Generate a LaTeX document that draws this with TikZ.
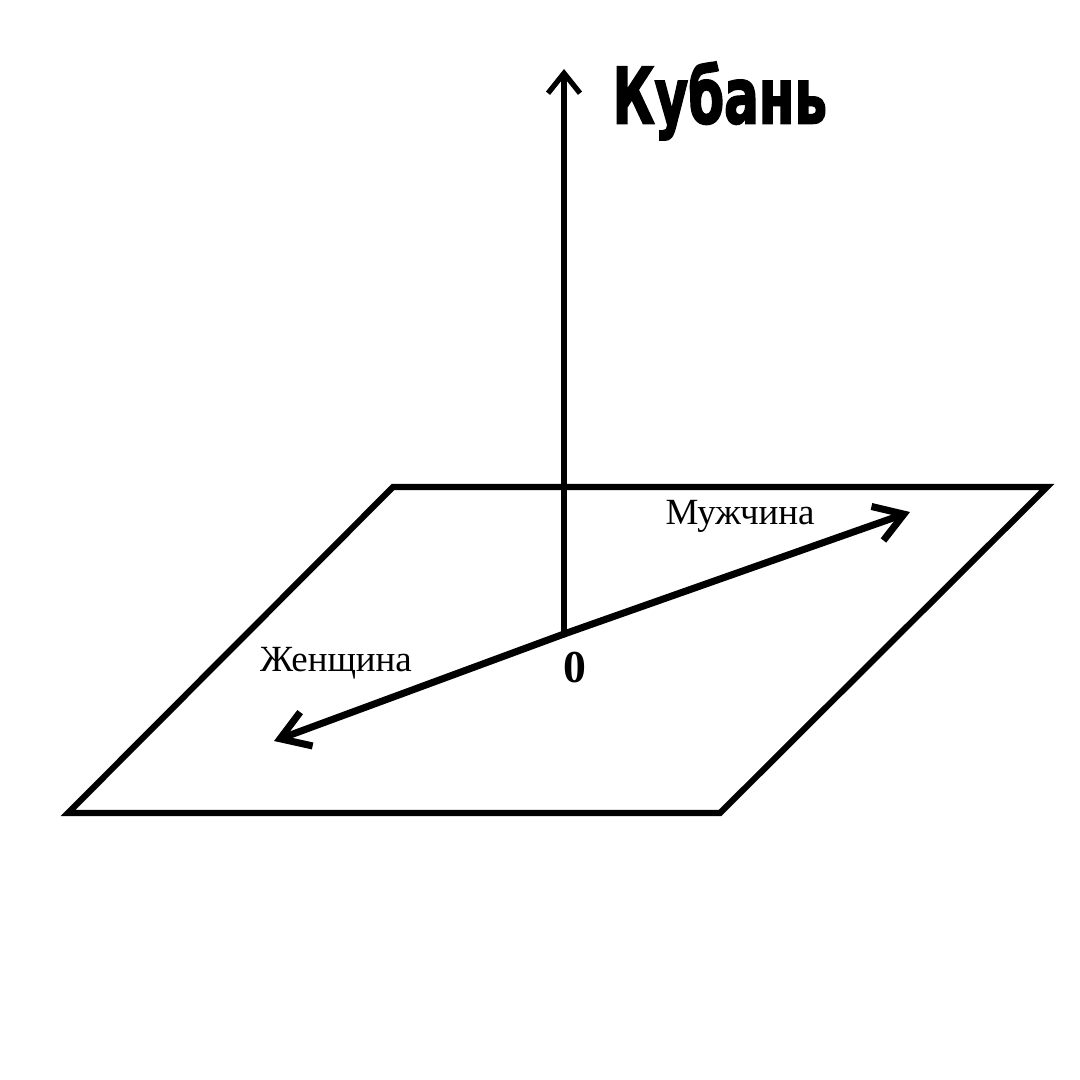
\documentclass[tikz,border=0pt]{standalone}
\usepackage{fontspec}
\setmainfont{Liberation Serif}
\newfontfamily\headfont{DejaVu Sans Condensed}[BoldFeatures={FakeBold=2.5}]
\usetikzlibrary{arrows.meta,positioning}

\begin{document}
\begin{tikzpicture}[x=0.01cm, y=-0.01cm, >={Straight Barb[length=0.28cm,width=0.36cm]}]
\tikzstyle{edge}=[line width=1.75pt, line cap=round, line join=miter]
\tikzstyle{lbl}=[font=\fontsize{10.5}{12}\selectfont, inner sep=0pt]
\useasboundingbox (0,0) rectangle (1080,1080);
% plane
\coordinate (p1) at (393,487);
\coordinate (p2) at (1047,487);
\coordinate (p3) at (720,813);
\coordinate (p4) at (68,813);
\draw[edge] (p1) -- (p2) -- (p3) -- (p4) -- cycle;
% axes
\coordinate (o) at (564,634);
\coordinate (top) at (564,69);
\coordinate (m) at (910,512);
\coordinate (w) at (274,741);
\draw[edge, ->, >={Straight Barb[length=0.2cm,width=0.32cm]}, line width=1.5pt] (o) -- (top);
\draw[edge, ->, line width=2pt] (o) -- (m);
\draw[edge, ->, line width=2pt] (o) -- (w);
% labels
\node[font=\headfont\bfseries\fontsize{22}{26}\selectfont, anchor=west, inner sep=0pt, xscale=0.74] (kuban) at (612,101) {Кубань};
\node[lbl] (man) at (740,516) {Мужчина};
\node[lbl] (woman) at (336,663) {Женщина};
\node[font=\bfseries\fontsize{13}{15}\selectfont, inner sep=0pt] (zero) at (575,668) {0};
\end{tikzpicture}
\end{document}
